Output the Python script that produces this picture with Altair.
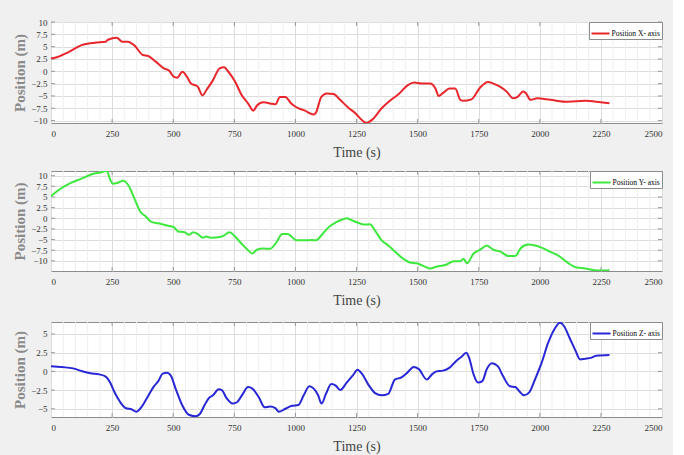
import altair as alt
import pandas as pd

# ---------------- data ----------------
t_x = [0, 27, 72, 125, 179, 224, 233, 269, 292, 314, 340, 376, 398, 430, 462, 484, 502, 516,
       538, 556, 573, 600, 620, 636, 663, 690, 708, 726, 753, 780, 806, 828, 842, 869, 905,
       918, 937, 959, 982, 1004, 1039, 1075, 1084, 1106, 1129, 1156, 1183, 1219, 1245, 1272,
       1290, 1317, 1353, 1389, 1425, 1460, 1487, 1514, 1550, 1573, 1586, 1604, 1631, 1654,
       1675, 1688, 1720, 1756, 1788, 1810, 1837, 1864, 1891, 1909, 1932, 1944, 1962, 1989,
       2043, 2115, 2186, 2249, 2285]
pos_x = [2.6, 2.9, 3.9, 5.3, 5.8, 6.0, 6.4, 6.8, 6.0, 6.0, 5.3, 3.3, 3.1, 1.9, 0.6, 0.1, -1.1,
         -1.3, -0.1, -1.1, -2.5, -3.1, -4.9, -3.8, -1.8, 0.6, 0.8, -0.1, -2.1, -4.8, -6.5, -8.0,
         -7.0, -6.3, -6.6, -6.7, -5.2, -5.2, -6.5, -7.3, -8.0, -8.8, -8.4, -5.2, -4.5, -4.6,
         -5.8, -7.5, -8.5, -9.9, -10.5, -9.7, -7.5, -5.9, -4.5, -2.8, -2.3, -2.5, -2.5, -3.5,
         -5.0, -4.4, -3.5, -3.5, -5.8, -6.0, -5.7, -3.3, -2.2, -2.5, -3.1, -4.1, -5.5, -5.2,
         -4.1, -4.5, -5.8, -5.5, -5.8, -6.2, -6.0, -6.3, -6.5]

t_y = [0, 36, 81, 125, 170, 206, 228, 242, 254, 272, 296, 319, 340, 367, 385, 409, 439, 475,
       502, 520, 547, 564, 582, 600, 622, 636, 654, 699, 731, 753, 780, 806, 824, 842, 869,
       896, 923, 946, 968, 986, 1004, 1039, 1066, 1084, 1111, 1138, 1165, 1192, 1210, 1228,
       1254, 1281, 1305, 1326, 1353, 1380, 1407, 1434, 1469, 1496, 1523, 1550, 1577, 1613,
       1649, 1675, 1688, 1702, 1729, 1756, 1783, 1810, 1837, 1873, 1900, 1921, 1953, 1980,
       2007, 2043, 2079, 2115, 2151, 2186, 2222, 2258, 2285]
pos_y = [5.2, 6.8, 8.3, 9.3, 10.4, 10.8, 11.2, 9.1, 8.1, 8.3, 8.8, 7.5, 4.8, 1.4, 0.6, -0.8,
         -1.2, -1.7, -2.1, -3.1, -3.3, -3.9, -3.3, -3.7, -4.6, -4.3, -4.6, -4.3, -3.3, -4.3,
         -6.0, -7.5, -8.3, -7.4, -7.1, -7.2, -5.6, -3.7, -3.7, -4.4, -5.2, -5.2, -5.1, -5.2,
         -3.7, -2.0, -1.0, -0.3, 0.0, -0.4, -1.0, -1.5, -1.4, -2.9, -5.2, -6.4, -7.8, -9.2,
         -10.4, -10.6, -11.2, -11.8, -11.4, -11.0, -10.1, -10.1, -9.5, -10.6, -8.3, -7.4,
         -6.4, -7.4, -7.8, -8.9, -8.9, -7.1, -6.2, -6.4, -6.9, -7.9, -8.9, -10.5, -11.6,
         -11.8, -12.2, -12.3, -12.2]

t_z = [0, 45, 90, 125, 161, 197, 224, 242, 260, 283, 305, 331, 349, 367, 394, 421, 439, 457,
       475, 489, 511, 538, 564, 591, 609, 627, 645, 663, 686, 699, 717, 744, 762, 785, 806,
       824, 851, 874, 896, 918, 932, 959, 986, 1012, 1034, 1057, 1075, 1093, 1107, 1125,
       1147, 1165, 1183, 1210, 1236, 1254, 1272, 1299, 1326, 1353, 1380, 1407, 1434, 1460,
       1484, 1505, 1538, 1559, 1577, 1604, 1631, 1658, 1681, 1699, 1711, 1729, 1747, 1765,
       1783, 1804, 1828, 1849, 1878, 1900, 1917, 1935, 1957, 1980, 2007, 2034, 2061, 2082,
       2100, 2123, 2147, 2165, 2186, 2208, 2231, 2285]
pos_z = [0.7, 0.57, 0.4, 0.04, -0.26, -0.4, -0.7, -1.5, -2.8, -4.1, -4.9, -5.1, -5.4, -4.9,
         -3.5, -2.0, -1.3, -0.3, -0.2, -0.5, -2.4, -4.6, -5.8, -6.0, -5.7, -4.6, -3.6, -3.2,
         -2.4, -2.5, -3.5, -4.3, -4.1, -3.0, -2.1, -2.3, -3.5, -4.8, -4.7, -4.9, -5.4, -5.0,
         -4.6, -4.5, -3.2, -2.0, -2.3, -3.2, -4.3, -3.0, -1.7, -1.9, -2.5, -1.5, -0.5, 0.2,
         -0.3, -1.8, -2.9, -3.2, -3.0, -1.1, -0.8, -0.1, 0.6, 0.3, -1.1, -0.4, 0.0, 0.1, 0.5,
         1.4, 2.0, 2.5, 1.8, -0.4, -1.5, -1.3, 0.3, 1.1, 0.7, -0.6, -2.0, -2.1, -2.7, -3.2,
         -2.8, -1.1, 1.1, 3.8, 5.7, 6.5, 6.0, 4.4, 2.7, 1.6, 1.7, 1.8, 2.1, 2.2]

x_ticks = [0, 250, 500, 750, 1000, 1250, 1500, 1750, 2000, 2250, 2500]
x_minor = [m for m in range(0, 2501, 50) if m % 250 != 0]
y_ticks_xy = [-10, -7.5, -5, -2.5, 0, 2.5, 5, 7.5, 10]
y_ticks_z = [-5, -2.5, 0, 2.5, 5]

names = ["Position X- axis", "Position Y- axis", "Position Z- axis"]
colors = ["#e8262c", "#3de83d", "#2727d6"]

FONT = "Liberation Serif"
W = 611


def panel(t, v, name, color, ydom, yticks, h):
    df = pd.DataFrame({"t": t, "v": v, "s": name})
    xs = alt.Scale(domain=[0, 2500], nice=False, zero=False)
    ys = alt.Scale(domain=ydom, nice=False, zero=False)
    common = dict(grid=True, gridColor="#dcdcdc", gridWidth=1, domain=False, ticks=False,
                  labelFont=FONT, labelFontSize=9, labelColor="#333333", titleFont=FONT)
    xa = alt.Axis(values=x_ticks, title="Time (s)", format="d", labelPadding=6,
                  titleFontSize=14, titleColor="#444444", titleFontWeight="normal",
                  titlePadding=7, **common)
    ya = alt.Axis(values=yticks, title="Position (m)", format=".1~f", labelPadding=4,
                  titleFontSize=15, titleColor="#8a8a8a", titleFontWeight="bold",
                  titlePadding=3, **common)

    minor = alt.Chart(pd.DataFrame({"t": x_minor})).mark_rule(
        color="#efefef", strokeWidth=1
    ).encode(x=alt.X("t:Q", scale=xs, axis=xa))

    bx = pd.DataFrame({"t": x_ticks[1:-1]})
    by = pd.DataFrame({"v": yticks})
    tk = dict(size=4, thickness=1, color="#777777")
    tb = alt.Chart(bx).mark_tick(orient="vertical", **tk).encode(
        x=alt.X("t:Q", scale=xs, axis=xa), y=alt.value(h - 2))
    tt = alt.Chart(bx).mark_tick(orient="vertical", **tk).encode(
        x=alt.X("t:Q", scale=xs, axis=xa), y=alt.value(2))
    tl = alt.Chart(by).mark_tick(orient="horizontal", **tk).encode(
        y=alt.Y("v:Q", scale=ys, axis=ya), x=alt.value(2))
    tr = alt.Chart(by).mark_tick(orient="horizontal", **tk).encode(
        y=alt.Y("v:Q", scale=ys, axis=ya), x=alt.value(W - 2))

    line = alt.Chart(df).mark_line(strokeWidth=2, interpolate="monotone", clip=True).encode(
        x=alt.X("t:Q", scale=xs, axis=xa),
        y=alt.Y("v:Q", scale=ys, axis=ya),
        color=alt.Color("s:N", scale=alt.Scale(domain=[name], range=[color]),
                        legend=alt.Legend(title=None, orient="top-right", offset=0,
                                          padding=1.5, strokeColor="#8c8c8c",
                                          fillColor="white", symbolType="stroke",
                                          symbolStrokeWidth=2, symbolSize=324,
                                          labelFont=FONT, labelFontSize=7.5,
                                          labelColor="black", labelOffset=1,
                                          rowPadding=0)),
    )
    return alt.layer(minor, tb, tt, tl, tr, line).properties(width=W, height=h)


p1 = panel(t_x, pos_x, names[0], colors[0], [-10.5, 10], y_ticks_xy, 101)
p2 = panel(t_y, pos_y, names[1], colors[1], [-12.4, 11.1], y_ticks_xy, 100)
p3 = panel(t_z, pos_z, names[2], colors[2], [-6.1, 6.6], y_ticks_z, 95)

top = alt.vconcat(p1, p2, spacing=10).resolve_scale(color="independent")
chart = alt.vconcat(top, p3, spacing=13).resolve_scale(color="independent").properties(
    background="#f0f0f0",
    padding={"left": 12, "top": 17, "right": 10, "bottom": 5},
).configure_view(
    fill="white", stroke="#8c8c8c", strokeWidth=1
)

chart.save("out.html", embed_options={"renderer": "svg", "actions": False})
